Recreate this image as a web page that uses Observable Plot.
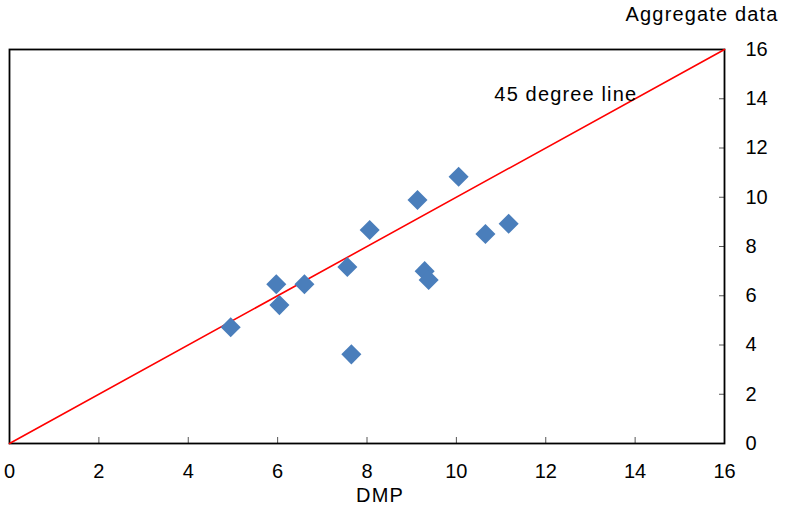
<!DOCTYPE html>
<html>
<head>
<meta charset="utf-8">
<script src="https://cdn.jsdelivr.net/npm/d3@7"></script>
<script src="https://cdn.jsdelivr.net/npm/@observablehq/plot@0.6"></script>
<style>
  html, body { margin: 0; padding: 0; background: #fff; }
  #chart { width: 787px; height: 510px; }
  .wide text { letter-spacing: 1.15px; }
</style>
</head>
<body>
<div id="chart"></div>
<script>
// DMP (x) vs Aggregate data (y)
const dmp =       [4.95, 5.97, 6.04, 6.60, 7.56, 7.65, 8.06, 9.13, 9.29, 9.38, 10.05, 10.65, 11.17];
const aggregate = [4.72, 6.47, 5.62, 6.47, 7.17, 3.62, 8.67, 9.89, 7.00, 6.64, 10.83, 8.51, 8.92];
const lineX = [0, 16];
const lineY = [0, 16];
const ticks = [0, 2, 4, 6, 8, 10, 12, 14, 16];
const xTitle = "DMP";
const yTitle = "Aggregate data";
const lineLabel = "45 degree line";
const lineLabelPos = {x: 10.85, y: 13.9};

const points = dmp.map((d, i) => ({x: d, y: aggregate[i]}));
const diag = lineX.map((d, i) => ({x: d, y: lineY[i]}));

const chart = Plot.plot({
  width: 787,
  height: 510,
  marginLeft: 9,
  marginRight: 63,
  marginTop: 49,
  marginBottom: 67,
  style: {fontFamily: "'Liberation Sans', Arial, sans-serif", fontSize: "20px", color: "#000", background: "#fff"},
  x: {domain: [0, 16], ticks: ticks},
  y: {domain: [0, 16], ticks: ticks},
  marks: [
    Plot.axisX({ticks: ticks, tickSize: -6, tickPadding: 26, label: null, stroke: "#555", strokeOpacity: 1, fill: "#000"}),
    Plot.axisY({anchor: "right", ticks: ticks, tickSize: -6, tickPadding: 27, label: null, stroke: "#555", strokeOpacity: 1, fill: "#000"}),
    Plot.frame({stroke: "#000", strokeWidth: 1.8}),
    Plot.line(diag, {x: "x", y: "y", stroke: "#ff0000", strokeWidth: 1.6}),
    Plot.dot(points, {x: "x", y: "y", symbol: "square", r: 8, rotate: 45, fill: "#4a7ebb", stroke: "none"}),
    Plot.text([lineLabel], {x: lineLabelPos.x, y: lineLabelPos.y, text: d => d, textAnchor: "start", lineAnchor: "bottom", fill: "#000", className: "wide"}),
    Plot.text([xTitle], {frameAnchor: "bottom", text: d => d, dx: 13, dy: 44, lineAnchor: "top", fill: "#000", className: "wide"}),
    Plot.text([yTitle], {frameAnchor: "top-right", text: d => d, dx: 54, dy: -29, textAnchor: "end", lineAnchor: "bottom", fill: "#000", className: "wide"})
  ]
});
document.getElementById("chart").appendChild(chart);
</script>
</body>
</html>
